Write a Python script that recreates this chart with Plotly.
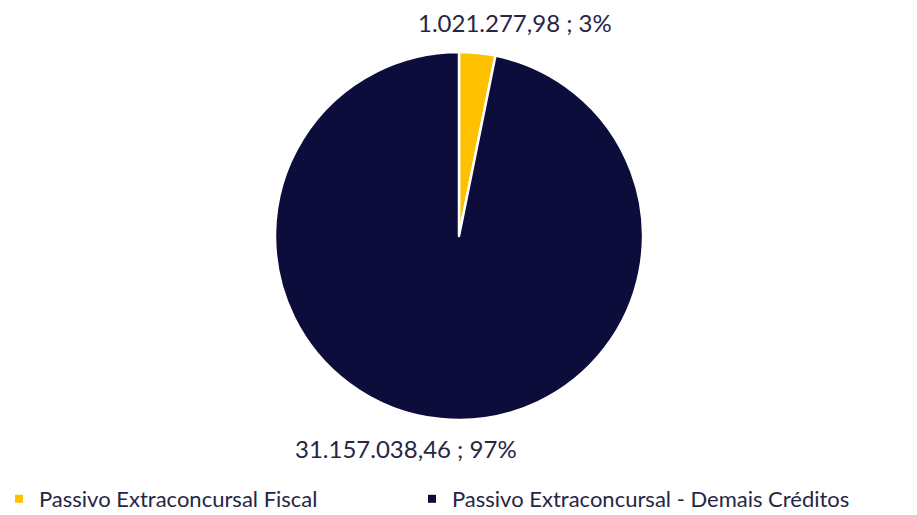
import plotly.graph_objects as go

categories = ["Passivo Extraconcursal Fiscal", "Passivo Extraconcursal - Demais Créditos"]
values = [1021277.98, 31157038.46]
value_labels = ["1.021.277,98", "31.157.038,46"]
colors = ["#FFC000", "#0D0D3B"]

W, H = 917, 515
OX, OY = 8, 8  # page body margin offset

def fx(px):
    return (px - OX) / W

def fy(py):
    return 1 - (py - OY) / H

total = sum(values)
pct = [round(v / total * 100) for v in values]

fig = go.Figure()
fig.add_trace(go.Pie(
    labels=categories,
    values=values,
    sort=False,
    direction="clockwise",
    rotation=0,
    textinfo="none",
    hoverinfo="label+value+percent",
    marker=dict(colors=colors, line=dict(color="white", width=2.5)),
    domain=dict(x=[fx(275), fx(643)], y=[fy(420), fy(52)]),
    showlegend=False,
))

legend_ids = ["legend", "legend2"]
legend_marker_x = [19, 432]
for name, col, lid in zip(categories, colors, legend_ids):
    fig.add_trace(go.Scatter(
        x=[None], y=[None], mode="markers", name=name,
        marker=dict(symbol="square", size=8, color=col),
        showlegend=True, legend=lid,
    ))

label_pos = [(515, 22), (406, 448)]
for (px, py), lab, p in zip(label_pos, value_labels, pct):
    fig.add_annotation(
        x=fx(px), y=fy(py), xref="paper", yref="paper",
        text=f"{lab} ; {p}%", showarrow=False,
        font=dict(family="Lato, sans-serif", size=24, color="#262646"),
        xanchor="center", yanchor="middle",
    )

legend_style = dict(
    orientation="h", y=fy(499), xanchor="left", yanchor="middle",
    font=dict(family="Lato, sans-serif", size=22, color="#262646"),
    itemwidth=30, bgcolor="rgba(0,0,0,0)",
)

fig.update_layout(
    width=W, height=H,
    margin=dict(l=0, r=0, t=0, b=0, autoexpand=False),
    paper_bgcolor="white", plot_bgcolor="white",
    xaxis=dict(visible=False), yaxis=dict(visible=False),
    legend=dict(x=fx(legend_marker_x[0] - 20), **legend_style),
    legend2=dict(x=fx(legend_marker_x[1] - 20), **legend_style),
)

fig.write_html("out.html")
